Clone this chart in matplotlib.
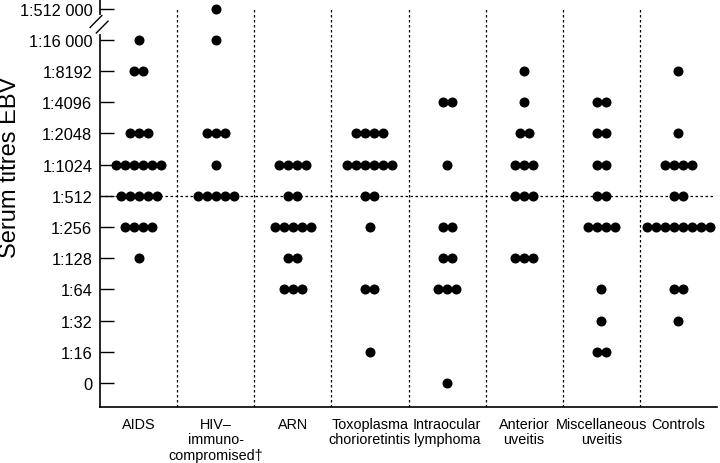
import matplotlib.pyplot as plt
import numpy as np

plt.rcParams['font.family'] = ['Liberation Sans', 'DejaVu Sans']

# titre levels, bottom to top
titre_labels = ['0', '1:16', '1:32', '1:64', '1:128', '1:256', '1:512', '1:1024',
                '1:2048', '1:4096', '1:8192', '1:16 000', '1:512 000']

groups = ['AIDS', 'HIV–\nimmuno-\ncompromised†', 'ARN', 'Toxoplasma\nchorioretintis',
          'Intraocular\nlymphoma', 'Anterior\nuveitis', 'Miscellaneous\nuveitis', 'Controls']

# number of patients at each titre level (same order as titre_labels)
aids = [0, 0, 0, 0, 1, 4, 5, 6, 3, 0, 2, 1, 0]
hiv_immuno = [0, 0, 0, 0, 0, 0, 5, 1, 3, 0, 0, 1, 1]
arn = [0, 0, 0, 3, 2, 5, 2, 4, 0, 0, 0, 0, 0]
toxoplasma = [0, 1, 0, 2, 0, 1, 2, 6, 4, 0, 0, 0, 0]
lymphoma = [1, 0, 0, 3, 2, 2, 0, 1, 0, 2, 0, 0, 0]
anterior = [0, 0, 0, 0, 3, 0, 3, 3, 2, 1, 1, 0, 0]
misc = [0, 2, 1, 1, 0, 4, 2, 2, 2, 2, 0, 0, 0]
controls = [0, 0, 1, 2, 0, 8, 2, 4, 1, 0, 1, 0, 0]

all_counts = [aids, hiv_immuno, arn, toxoplasma, lymphoma, anterior, misc, controls]

fig = plt.figure(figsize=(7.2, 4.64), dpi=100)
ax = fig.add_axes([100 / 720, 56 / 464, 617 / 720, 408 / 464])

step = 0.117
for gi, counts in enumerate(all_counts):
    for level, n in enumerate(counts):
        if n == 0:
            continue
        xs = gi + (np.arange(n) - (n - 1) / 2) * step
        ax.plot(xs, [level] * n, 'o', color='black', markersize=6.2, zorder=3)

ax.set_xlim(-0.5, 7.5)
ax.set_ylim(-0.77, 12.31)

# dotted separators and the 1:512 reference line
for i in range(7):
    ax.plot([i + 0.5, i + 0.5], [-0.77, 12], color='black', lw=0.9,
            linestyle=(0, (2, 2)), zorder=1)
ax.plot([-0.5, 7.45], [6, 6], color='black', lw=0.9, linestyle=(0, (2, 2)), zorder=1)

ax.spines['top'].set_visible(False)
ax.spines['right'].set_visible(False)
ax.spines['left'].set_linewidth(1.2)
ax.spines['bottom'].set_linewidth(1.2)

ax.set_yticks(range(len(titre_labels)))
ax.set_yticklabels(titre_labels, fontsize=11.8)
ax.tick_params(axis='y', direction='in', length=10, width=1, pad=5.5)

ax.set_xticks(range(len(groups)))
ax.set_xticklabels(groups, fontsize=10.4, linespacing=1.15)
ax.tick_params(axis='x', length=0, pad=7)

# axis break on the y spine
tr = ax.get_yaxis_transform()
ax.plot([0, 0], [11.25, 11.73], color='white', lw=3, transform=tr, clip_on=False, zorder=4)
ax.plot([-0.016, 0.003], [11.4, 11.78], color='black', lw=1, transform=tr, clip_on=False, zorder=5)
ax.plot([-0.006, 0.013], [11.22, 11.6], color='black', lw=1, transform=tr, clip_on=False, zorder=5)

fig.text(10 / 720, 1 - 167 / 464, 'Serum titres EBV', rotation=90, fontsize=17,
         ha='center', va='center')

fig.savefig('out.png', dpi=100)
